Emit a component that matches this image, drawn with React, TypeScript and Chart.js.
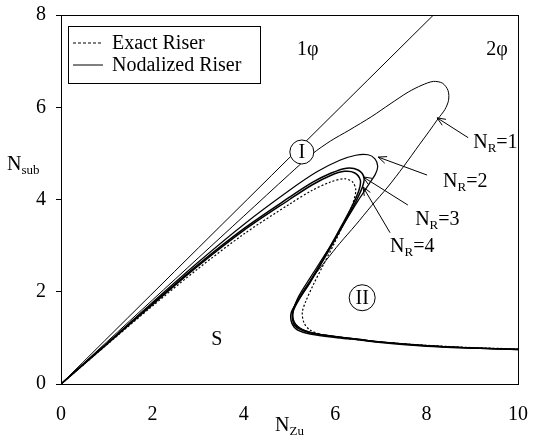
import { useEffect, useRef } from "react";
import { Chart, registerables } from "chart.js";

Chart.register(...registerables);

// ---- axis ticks ----
const xTickValues = [0, 2, 4, 6, 8, 10];
const yTickValues = [0, 2, 4, 6, 8];

// ---- 1phi / 2phi boundary ----
const boundaryX = [0, 8.15];
const boundaryY = [0, 8.0];

// ---- Nodalized riser, N_R = 1 ----
const nr1X = [0, 1, 2, 3, 4, 5, 5.5, 5.9, 6.3, 6.8, 7.2, 7.6, 7.9, 8.15, 8.35, 8.47, 8.48, 8.4, 8.25, 8.05, 7.85, 7.5, 7.15, 6.8, 6.45, 6.1, 5.8, 5.5, 5.25, 5.1, 5.06, 5.12, 5.28, 5.55, 6, 6.5, 7, 8, 9, 10];
const nr1Y = [0, 0.91, 1.82, 2.73, 3.64, 4.55, 4.99, 5.27, 5.5, 5.8, 6.07, 6.33, 6.48, 6.56, 6.52, 6.36, 6.15, 5.95, 5.75, 5.47, 5.2, 4.72, 4.27, 3.87, 3.45, 3.05, 2.68, 2.3, 1.95, 1.68, 1.5, 1.32, 1.19, 1.1, 1.03, 0.97, 0.91, 0.83, 0.78, 0.75];

// ---- N_R = 2 ----
const nr2X = [0, 1, 2, 3, 4, 5, 5.6, 6.1, 6.45, 6.72, 6.87, 6.93, 6.88, 6.75, 6.55, 6.3, 6.0, 5.72, 5.45, 5.2, 5.08, 5.1, 5.24, 5.55, 6, 6.5, 7, 8, 9, 10];
const nr2Y = [0, 0.88, 1.77, 2.64, 3.46, 4.2, 4.6, 4.85, 4.96, 4.97, 4.88, 4.72, 4.55, 4.35, 4.05, 3.65, 3.15, 2.72, 2.3, 1.9, 1.58, 1.35, 1.2, 1.1, 1.03, 0.97, 0.91, 0.83, 0.78, 0.75];

// ---- N_R = 3 ----
const nr3X = [0, 1, 2, 3, 4, 5, 5.5, 5.9, 6.25, 6.5, 6.63, 6.6, 6.45, 6.2, 5.95, 5.7, 5.45, 5.22, 5.08, 5.08, 5.2, 5.5, 6, 6.5, 7, 8, 9, 10];
const nr3Y = [0, 0.87, 1.74, 2.59, 3.37, 4.05, 4.37, 4.57, 4.68, 4.64, 4.48, 4.28, 3.95, 3.5, 3.05, 2.62, 2.2, 1.85, 1.57, 1.34, 1.2, 1.1, 1.03, 0.97, 0.91, 0.83, 0.78, 0.75];

// ---- N_R = 4 ----
const nr4X = [0, 1, 2, 3, 4, 5, 5.5, 5.9, 6.2, 6.42, 6.55, 6.52, 6.38, 6.15, 5.9, 5.65, 5.4, 5.18, 5.04, 5.05, 5.18, 5.48, 6, 6.5, 7, 8, 9, 10];
const nr4Y = [0, 0.86, 1.72, 2.56, 3.33, 4.0, 4.32, 4.52, 4.61, 4.58, 4.42, 4.2, 3.88, 3.45, 3.0, 2.56, 2.15, 1.8, 1.55, 1.32, 1.17, 1.08, 1.01, 0.96, 0.9, 0.82, 0.78, 0.75];

// ---- Exact riser (dotted) ----
const exactX = [0, 1, 2, 3, 4, 5, 5.5, 5.9, 6.2, 6.38, 6.45, 6.38, 6.2, 5.98, 5.75, 5.52, 5.36, 5.28, 5.32, 5.45, 5.75, 6.2, 7, 8, 9, 10];
const exactY = [0, 0.85, 1.69, 2.5, 3.25, 3.9, 4.2, 4.38, 4.45, 4.38, 4.2, 3.9, 3.5, 3.05, 2.6, 2.15, 1.8, 1.55, 1.32, 1.17, 1.06, 0.99, 0.91, 0.84, 0.79, 0.76];

// ---- annotation texts & anchors (data units) ----
const regionTexts = ["1\u03c6", "2\u03c6", "S"];
const regionX = [5.4, 9.54, 3.41];
const regionY = [7.25, 7.25, 0.95];

const circleTexts = ["I", "II"];
const circleX = [5.27, 6.59];
const circleY = [5.03, 1.87];

const arrowNR = ["1", "2", "3", "4"];
const arrowTextX = [9.02, 8.36, 7.75, 7.2];
const arrowTextY = [5.23, 4.38, 3.56, 2.97];
const arrowTailX = [8.91, 8.01, 7.59, 7.2];
const arrowTailY = [5.34, 4.53, 3.88, 3.28];
const arrowHeadX = [8.23, 6.94, 6.61, 6.61];
const arrowHeadY = [5.77, 4.92, 4.49, 4.27];

const legendLabels = ["Exact Riser", "Nodalized Riser"];

const SERIF = "'Liberation Serif', 'Times New Roman', serif";
const FS = 20;

const pts = (xs: number[], ys: number[]) => xs.map((x, i) => ({ x, y: ys[i] }));

function drawSub(ctx: CanvasRenderingContext2D, x: number, y: number, main: string, sub: string, rest: string, size: number, align: "left" | "center") {
  const subSize = Math.round(size * 0.65);
  ctx.font = `${size}px ${SERIF}`;
  const w1 = ctx.measureText(main).width;
  const w3 = ctx.measureText(rest).width;
  ctx.font = `${subSize}px ${SERIF}`;
  const w2 = ctx.measureText(sub).width;
  const total = w1 + w2 + w3;
  let sx = align === "center" ? x - total / 2 : x;
  ctx.textBaseline = "middle";
  ctx.textAlign = "left";
  ctx.font = `${size}px ${SERIF}`;
  ctx.fillText(main, sx, y);
  sx += w1;
  ctx.font = `${subSize}px ${SERIF}`;
  ctx.fillText(sub, sx, y + size * 0.28);
  sx += w2;
  ctx.font = `${size}px ${SERIF}`;
  ctx.fillText(rest, sx, y);
}

const decorPlugin = {
  id: "decor",
  afterDatasetsDraw(chart: any) {
    const ctx: CanvasRenderingContext2D = chart.ctx;
    const xs = chart.scales.x;
    const ys = chart.scales.y;
    const ca = chart.chartArea;
    const px = (v: number) => xs.getPixelForValue(v);
    const py = (v: number) => ys.getPixelForValue(v);
    ctx.save();
    ctx.fillStyle = "#000";
    ctx.strokeStyle = "#000";
    ctx.lineWidth = 1;

    // frame
    ctx.strokeRect(Math.round(ca.left) + 0.5, Math.round(ca.top) + 0.5, Math.round(ca.right - ca.left), Math.round(ca.bottom - ca.top));

    // region labels
    ctx.font = `${FS}px ${SERIF}`;
    ctx.textAlign = "center";
    ctx.textBaseline = "middle";
    regionTexts.forEach((t, i) => ctx.fillText(t, px(regionX[i]), py(regionY[i])));

    // circled labels
    circleTexts.forEach((t, i) => {
      const cx = px(circleX[i]);
      const cy = py(circleY[i]);
      const r = t.length > 1 ? 13 : 12;
      ctx.beginPath();
      ctx.arc(cx, cy, r, 0, Math.PI * 2);
      ctx.fillStyle = "#fff";
      ctx.fill();
      ctx.stroke();
      ctx.fillStyle = "#000";
      ctx.font = `${FS}px ${SERIF}`;
      ctx.textAlign = "center";
      ctx.textBaseline = "middle";
      ctx.fillText(t, cx, cy + 1);
    });

    // arrows with N_R labels
    arrowNR.forEach((n, i) => {
      const x1 = px(arrowTailX[i]), y1 = py(arrowTailY[i]);
      const x2 = px(arrowHeadX[i]), y2 = py(arrowHeadY[i]);
      ctx.beginPath();
      ctx.moveTo(x1, y1);
      ctx.lineTo(x2, y2);
      ctx.stroke();
      const ang = Math.atan2(y2 - y1, x2 - x1);
      const L = 9, a = 0.4;
      ctx.beginPath();
      ctx.moveTo(x2 - L * Math.cos(ang - a), y2 - L * Math.sin(ang - a));
      ctx.lineTo(x2, y2);
      ctx.lineTo(x2 - L * Math.cos(ang + a), y2 - L * Math.sin(ang + a));
      ctx.stroke();
      drawSub(ctx, px(arrowTextX[i]), py(arrowTextY[i]), "N", "R", "=" + n, FS, "left");
    });

    // legend box
    const lx = ca.left + 7, ly = ca.top + 11, lw = 192, lh = 57;
    ctx.fillStyle = "#fff";
    ctx.fillRect(lx, ly, lw, lh);
    ctx.strokeRect(Math.round(lx) + 0.5, Math.round(ly) + 0.5, lw, lh);
    ctx.fillStyle = "#000";
    const rows = [ly + 17, ly + 39];
    rows.forEach((ry, i) => {
      ctx.beginPath();
      ctx.setLineDash(i === 0 ? [3, 2] : []);
      ctx.moveTo(lx + 5, ry);
      ctx.lineTo(lx + 35, ry);
      ctx.stroke();
      ctx.setLineDash([]);
      ctx.font = `${FS}px ${SERIF}`;
      ctx.textAlign = "left";
      ctx.textBaseline = "middle";
      ctx.fillText(legendLabels[i], lx + 44, ry + 1);
    });

    // axis titles
    drawSub(ctx, (ca.left + ca.right) / 2, ca.bottom + 42, "N", "Zu", "", FS, "center");
    drawSub(ctx, 7, py(4.75), "N", "sub", "", FS, "left");
    ctx.restore();
  },
};

export default function App() {
  const ref = useRef<HTMLCanvasElement>(null);
  useEffect(() => {
    document.body.style.margin = "0";
    const canvas = ref.current!;
    const line = (data: any, width: number, dash: number[] = []) => ({
      data,
      showLine: true,
      borderColor: "#000",
      backgroundColor: "#000",
      borderWidth: width,
      borderDash: dash,
      pointRadius: 0,
      fill: false,
      tension: 0.3,
    });
    const chart = new Chart(canvas, {
      type: "scatter",
      data: {
        datasets: [
          { label: "boundary", ...line(pts(boundaryX, boundaryY), 1) },
          { label: "NR=1", ...line(pts(nr1X, nr1Y), 1) },
          { label: "NR=2", ...line(pts(nr2X, nr2Y), 1.2) },
          { label: "NR=3", ...line(pts(nr3X, nr3Y), 1.5) },
          { label: "NR=4", ...line(pts(nr4X, nr4Y), 1.5) },
          { label: "Exact", ...line(pts(exactX, exactY), 1.2, [2, 2]) },
        ] as any,
      },
      options: {
        responsive: false,
        animation: false,
        devicePixelRatio: 1,
        layout: { padding: { top: 15, right: 16, left: 0, bottom: 0 } },
        plugins: { legend: { display: false }, tooltip: { enabled: false } },
        scales: {
          x: {
            type: "linear",
            min: 0,
            max: 10,
            afterBuildTicks: (s: any) => { s.ticks = xTickValues.map((v) => ({ value: v })); },
            ticks: { font: { family: SERIF, size: FS }, color: "#000", padding: 19, maxRotation: 0 },
            grid: { display: true, drawOnChartArea: false, drawTicks: false, color: "#000" },
            border: { display: true, color: "#000", width: 1 },
            afterFit: (s: any) => { s.height = 58; s.paddingLeft = 0; s.paddingRight = 0; s.paddingTop = 0; s.paddingBottom = 0; },
          },
          y: {
            type: "linear",
            min: 0,
            max: 8,
            afterBuildTicks: (s: any) => { s.ticks = yTickValues.map((v) => ({ value: v })); },
            ticks: { font: { family: SERIF, size: FS }, color: "#000", padding: 10 },
            grid: { display: true, drawOnChartArea: false, drawTicks: true, tickLength: 5, color: "#000" },
            border: { display: true, color: "#000", width: 1 },
            afterFit: (s: any) => { s.width = 61; s.paddingLeft = 0; s.paddingRight = 0; s.paddingTop = 0; s.paddingBottom = 0; },
          },
        },
      } as any,
      plugins: [decorPlugin],
    });
    return () => chart.destroy();
  }, []);
  return (
    <div style={{ width: 534, height: 442 }}>
      <canvas ref={ref} width={534} height={442} style={{ display: "block" }} />
    </div>
  );
}
